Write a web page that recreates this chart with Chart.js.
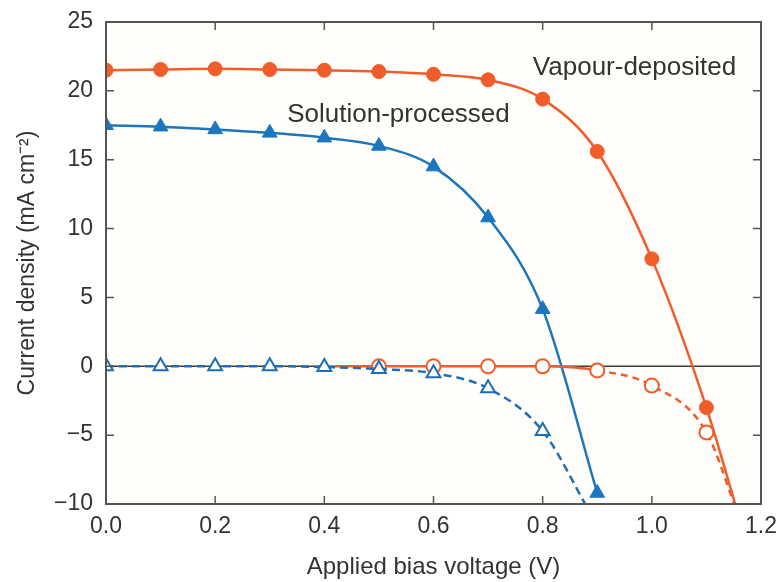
<!DOCTYPE html>
<html>
<head>
<meta charset="utf-8">
<script src="https://cdn.jsdelivr.net/npm/chart.js@4.4.0/dist/chart.umd.min.js"></script>
<style>
  html, body { margin: 0; padding: 0; background: #ffffff; }
  #wrap { width: 781px; height: 582px; }
</style>
</head>
<body>
<div id="wrap"><canvas id="myChart" width="781" height="582"></canvas></div>
<script>
'use strict';

// bias voltage (V) where points were measured
var voltage = [0, 0.1, 0.2, 0.3, 0.4, 0.5, 0.6, 0.7, 0.8, 0.9, 1.0, 1.1];

// vapour-deposited, illuminated (filled circles) + end of curve at bottom axis
var vapourLightV = [0, 0.1, 0.2, 0.3, 0.4, 0.5, 0.6, 0.7, 0.8, 0.9, 1.0, 1.1, 1.16];
var vapourLight = [21.5, 21.55, 21.6, 21.55, 21.5, 21.4, 21.2, 20.8, 19.4, 15.6, 7.8, -3.0, -11];

// vapour-deposited, dark (open circles); curve starts at 0.42, ends at bottom axis
var vapourDarkV = [0.42, 0.5, 0.6, 0.7, 0.8, 0.9, 1.0, 1.1, 1.16];
var vapourDark = [0, 0, 0, 0, 0, -0.3, -1.4, -4.8, -11];

// solution-processed, illuminated (filled triangles)
var solutionLight = [17.5, 17.4, 17.2, 16.95, 16.6, 16.0, 14.5, 10.8, 4.15, -9.2];

// solution-processed, dark (open triangles) + end of curve at bottom axis
var solutionDarkV = [0, 0.1, 0.2, 0.3, 0.4, 0.5, 0.6, 0.7, 0.8, 0.885];
var solutionDark = [0, 0, 0, 0, -0.05, -0.2, -0.5, -1.6, -4.7, -10.5];

var xTicks = [0, 0.2, 0.4, 0.6, 0.8, 1.0, 1.2];
var yTicks = [-10, -5, 0, 5, 10, 15, 20, 25];

var orange = 'rgb(240, 92, 42)';
var blue = 'rgb(28, 118, 190)';
var ink = '#333333';
var font = 'Liberation Sans, Arial, Helvetica, sans-serif';

function pts(xs, ys) {
    return ys.map(function (y, i) { return { x: xs[i], y: y }; });
}
// markers only on measured points, not on the curve ends
function radii(n, r, head, tail) {
    var a = [];
    for (var i = 0; i < n; i++) a.push(i >= head && i < n - tail ? r : 0);
    return a;
}

var frame = {
    id: 'frame',
    beforeDatasetsDraw: function (chart) {
        var c = chart.ctx, a = chart.chartArea;
        c.save();
        c.fillStyle = '#fffefa';
        c.fillRect(a.left, a.top, a.right - a.left, a.bottom - a.top);
        // zero line
        var y0 = chart.scales.y.getPixelForValue(0);
        c.strokeStyle = '#3a3a3a';
        c.lineWidth = 1.5;
        c.beginPath();
        c.moveTo(a.left, y0);
        c.lineTo(a.right, y0);
        c.stroke();
        c.restore();
    },
    afterDraw: function (chart) {
        var c = chart.ctx, a = chart.chartArea;
        var sx = chart.scales.x, sy = chart.scales.y;
        c.save();
        c.strokeStyle = '#555555';
        c.lineWidth = 2;
        c.strokeRect(a.left, a.top, a.right - a.left, a.bottom - a.top);
        c.lineWidth = 1.5;
        c.beginPath();
        xTicks.forEach(function (v) {
            var px = sx.getPixelForValue(v);
            c.moveTo(px, a.bottom); c.lineTo(px, a.bottom - 8);
            c.moveTo(px, a.top); c.lineTo(px, a.top + 8);
        });
        yTicks.forEach(function (v) {
            var py = sy.getPixelForValue(v);
            c.moveTo(a.left, py); c.lineTo(a.left + 8, py);
            c.moveTo(a.right, py); c.lineTo(a.right - 8, py);
        });
        c.stroke();
        // curve labels
        c.fillStyle = ink;
        c.font = '26px ' + font;
        c.textBaseline = 'middle';
        c.textAlign = 'left';
        c.fillText('Vapour-deposited', sx.getPixelForValue(0.782), sy.getPixelForValue(21.7));
        c.fillText('Solution-processed', sx.getPixelForValue(0.332), sy.getPixelForValue(18.25));
        c.restore();
    }
};

var ctx = document.getElementById('myChart').getContext('2d');
var myChart = new Chart(ctx, {
    type: 'line',
    data: {
        datasets: [{
            label: 'Solution-processed dark',
            data: pts(solutionDarkV, solutionDark),
            borderColor: 'rgb(30, 110, 180)',
            borderWidth: 2.5,
            borderDash: [8, 5],
            pointStyle: 'triangle',
            pointRadius: radii(solutionDark.length, 8, 0, 1),
            pointBackgroundColor: '#ffffff',
            pointBorderColor: 'rgb(30, 110, 180)',
            pointBorderWidth: 2,
            cubicInterpolationMode: 'monotone'
        }, {
            label: 'Vapour-deposited dark',
            data: pts(vapourDarkV, vapourDark),
            borderColor: orange,
            borderWidth: 2.5,
            segment: {
                borderDash: function (c) { return c.p0.parsed.x >= 0.85 ? [7, 5] : undefined; }
            },
            pointStyle: 'circle',
            pointRadius: radii(vapourDark.length, 7, 1, 1),
            pointBackgroundColor: '#ffffff',
            pointBorderColor: orange,
            pointBorderWidth: 2,
            cubicInterpolationMode: 'monotone'
        }, {
            label: 'Solution-processed',
            data: pts(voltage, solutionLight),
            borderColor: blue,
            borderWidth: 2.5,
            pointStyle: 'triangle',
            pointRadius: 8.5,
            pointBackgroundColor: blue,
            pointBorderColor: blue,
            pointBorderWidth: 1,
            cubicInterpolationMode: 'monotone'
        }, {
            label: 'Vapour-deposited',
            data: pts(vapourLightV, vapourLight),
            borderColor: orange,
            borderWidth: 2.5,
            pointStyle: 'circle',
            pointRadius: radii(vapourLight.length, 7, 0, 1),
            pointBackgroundColor: orange,
            pointBorderColor: orange,
            pointBorderWidth: 1,
            cubicInterpolationMode: 'monotone'
        }]
    },
    options: {
        responsive: false,
        animation: false,
        layout: { padding: { left: 14, right: 20, top: 22, bottom: 0 } },
        plugins: { legend: { display: false }, tooltip: { enabled: false } },
        scales: {
            x: {
                type: 'linear',
                min: 0,
                max: 1.2,
                afterBuildTicks: function (s) { s.ticks = xTicks.map(function (v) { return { value: v }; }); },
                afterFit: function (s) { s.height = 78; },
                grid: { display: false },
                border: { display: false },
                ticks: {
                    color: ink,
                    font: { family: font, size: 23 },
                    padding: 1,
                    maxRotation: 0,
                    callback: function (v) { return v.toFixed(1); }
                },
                title: {
                    display: true,
                    text: 'Applied bias voltage (V)',
                    color: ink,
                    font: { family: font, size: 24 },
                    padding: { top: 10, bottom: 0 }
                }
            },
            y: {
                min: -10,
                max: 25,
                afterBuildTicks: function (s) { s.ticks = yTicks.map(function (v) { return { value: v }; }); },
                afterFit: function (s) { s.width = 92; },
                grid: { display: false },
                border: { display: false },
                ticks: {
                    color: ink,
                    font: { family: font, size: 23 },
                    padding: 5,
                    callback: function (v) { return v < 0 ? '\u2212' + Math.abs(v) : String(v); }
                },
                title: {
                    display: true,
                    text: 'Current density (mA cm\u207B\u00B2)',
                    color: ink,
                    font: { family: font, size: 23 },
                    padding: 0
                }
            }
        }
    },
    plugins: [frame]
});
</script>
</body>
</html>
